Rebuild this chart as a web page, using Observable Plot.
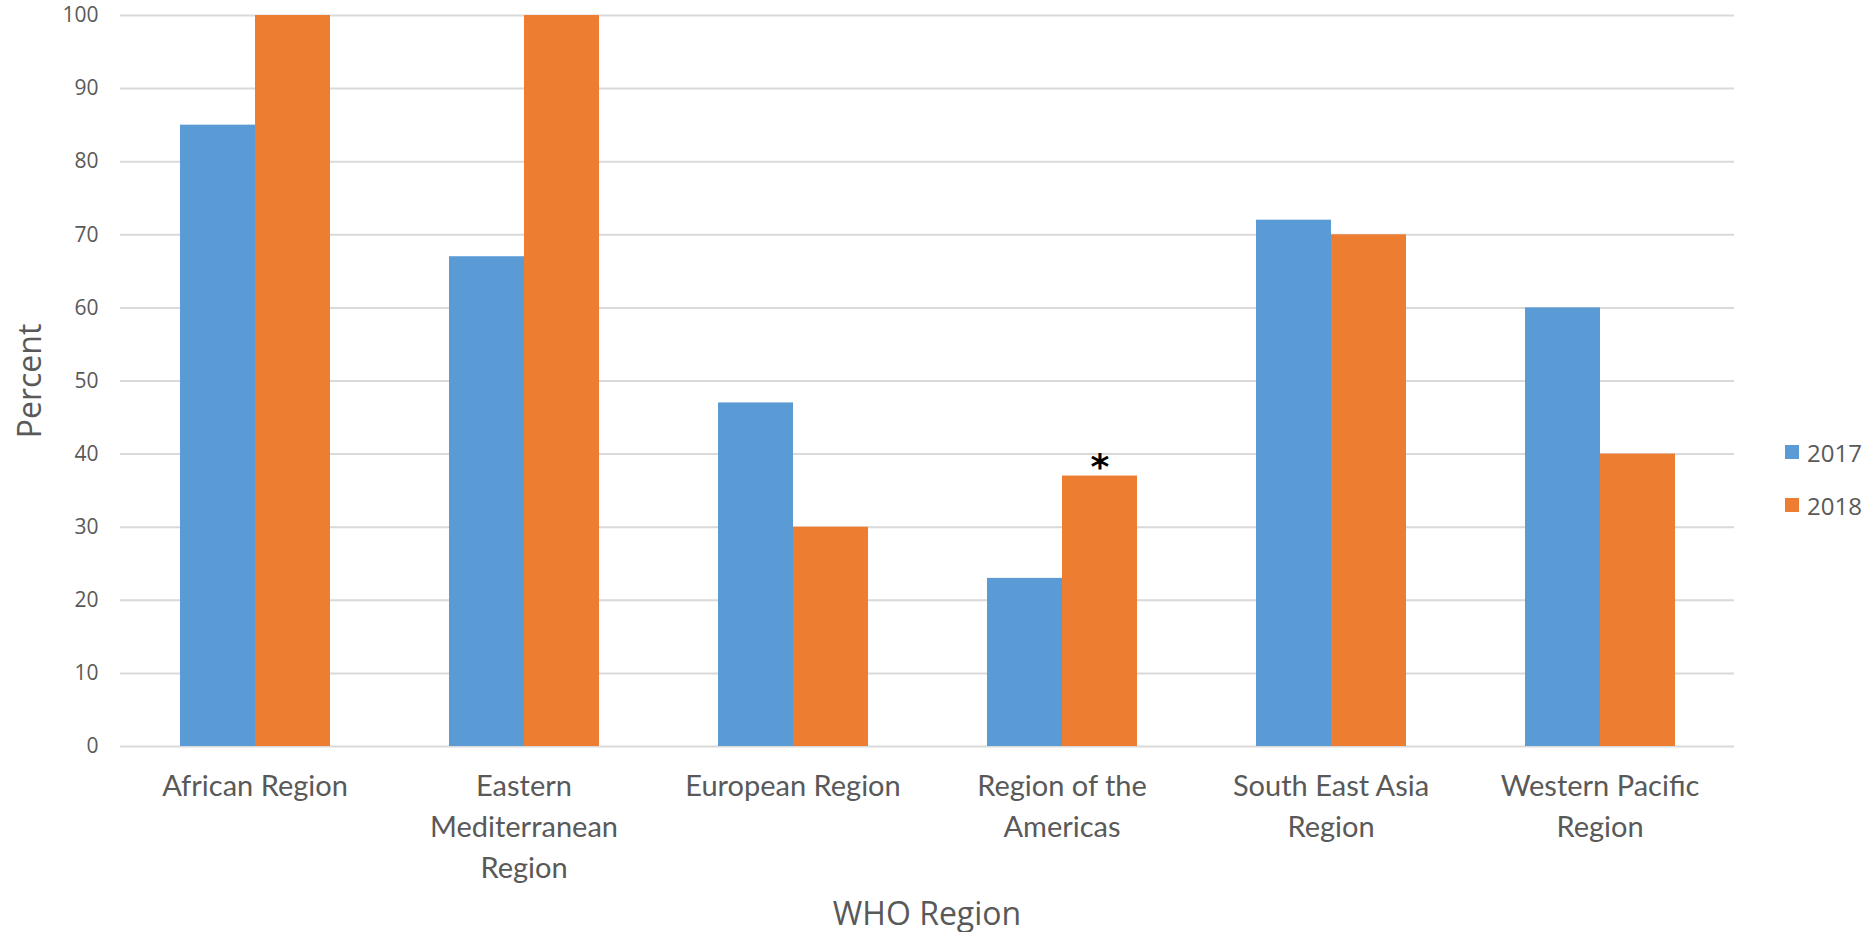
<!DOCTYPE html>
<html>
<head>
<meta charset="utf-8">
<script src="https://cdn.jsdelivr.net/npm/d3@7"></script>
<script src="https://cdn.jsdelivr.net/npm/@observablehq/plot@0.6"></script>
<style>
  html, body { margin: 0; padding: 0; background: #fff; }
  #wrap { position: relative; width: 1872px; height: 932px; overflow: hidden; }
  #xtitle { position: absolute; left: 120px; width: 1614px; top: 893px; text-align: center;
            font-family: "Open Sans", sans-serif; font-size: 32px; line-height: 40px; color: #595959; }
  #legend { position: absolute; left: 1785px; top: 434px; font-family: "Open Sans", sans-serif;
            font-size: 24px; color: #595959; }
  .item { display: flex; align-items: center; height: 36px; margin-bottom: 17px; }
  .sw { width: 14px; height: 14px; margin-right: 8px; }
</style>
</head>
<body>
<div id="wrap"></div>
<script>
const regions = ["African Region", "Eastern Mediterranean Region", "European Region",
                 "Region of the Americas", "South East Asia Region", "Western Pacific Region"];
const regionLabels = ["African Region", "Eastern\nMediterranean\nRegion", "European Region",
                      "Region of the\nAmericas", "South East Asia\nRegion", "Western Pacific\nRegion"];
const years = ["2017", "2018"];
const values2017 = [85, 67, 47, 23, 72, 60];
const values2018 = [100, 100, 30, 37, 70, 40];
const notes2018 = ["", "", "", "*", "", ""];
const colors = ["#5b9bd5", "#ed7d31"];
const yTicks = [0, 10, 20, 30, 40, 50, 60, 70, 80, 90, 100];
const yLabel = "Percent";
const xLabel = "WHO Region";

const data = [];
regions.forEach((r, i) => {
  data.push({region: r, year: years[0], value: values2017[i], note: ""});
  data.push({region: r, year: years[1], value: values2018[i], note: notes2018[i]});
});
const labelOf = new Map(regions.map((r, i) => [r, regionLabels[i]]));

const plot = Plot.plot({
  width: 1872,
  height: 893,
  marginLeft: 120,
  marginRight: 138,
  marginTop: 15,
  marginBottom: 147,
  style: {fontFamily: "Open Sans, sans-serif", color: "#595959", background: "white"},
  fx: {domain: regions, padding: 0, label: null},
  x: {domain: years, paddingInner: 0, paddingOuter: 0.77, axis: null},
  y: {domain: [0, 100], label: null},
  color: {domain: years, range: colors},
  marks: [
    Plot.gridY(yTicks, {stroke: "#d9d9d9", strokeOpacity: 1, strokeWidth: 2}),
    Plot.barY(data, {fx: "region", x: "year", y: "value", fill: "year"}),
    Plot.text(data.filter(d => d.note), {fx: "region", x: "year", y: "value", text: "note",
      dy: 3, lineAnchor: "bottom", fontSize: 36, fontWeight: "bold", fill: "black",
      fontFamily: "DejaVu Sans"}),
    Plot.axisY(yTicks, {tickSize: 0, tickPadding: 22, fontSize: 21, fill: "#595959", label: null}),
    Plot.text([yLabel], {frameAnchor: "left", facetAnchor: "left", rotate: -90, dx: -90,
      textAnchor: "middle", lineAnchor: "middle", fontSize: 32, fill: "#595959",
      fontFamily: "Open Sans, sans-serif"}),
    Plot.axisFx({anchor: "bottom", tickSize: 0, tickPadding: 21, fontSize: 29,
      lineHeight: 1.4, fill: "#595959", fontFamily: "Lato, sans-serif",
      tickFormat: r => labelOf.get(r), label: null})
  ]
});

const wrap = document.getElementById("wrap");
wrap.appendChild(plot);

const xt = document.createElement("div");
xt.id = "xtitle";
xt.textContent = xLabel;
wrap.appendChild(xt);

const legend = d3.select(wrap).append("div").attr("id", "legend");
years.forEach((y, i) => {
  const it = legend.append("div").attr("class", "item");
  it.append("div").attr("class", "sw").style("background", colors[i]);
  it.append("span").text(y);
});
</script>
</body>
</html>
